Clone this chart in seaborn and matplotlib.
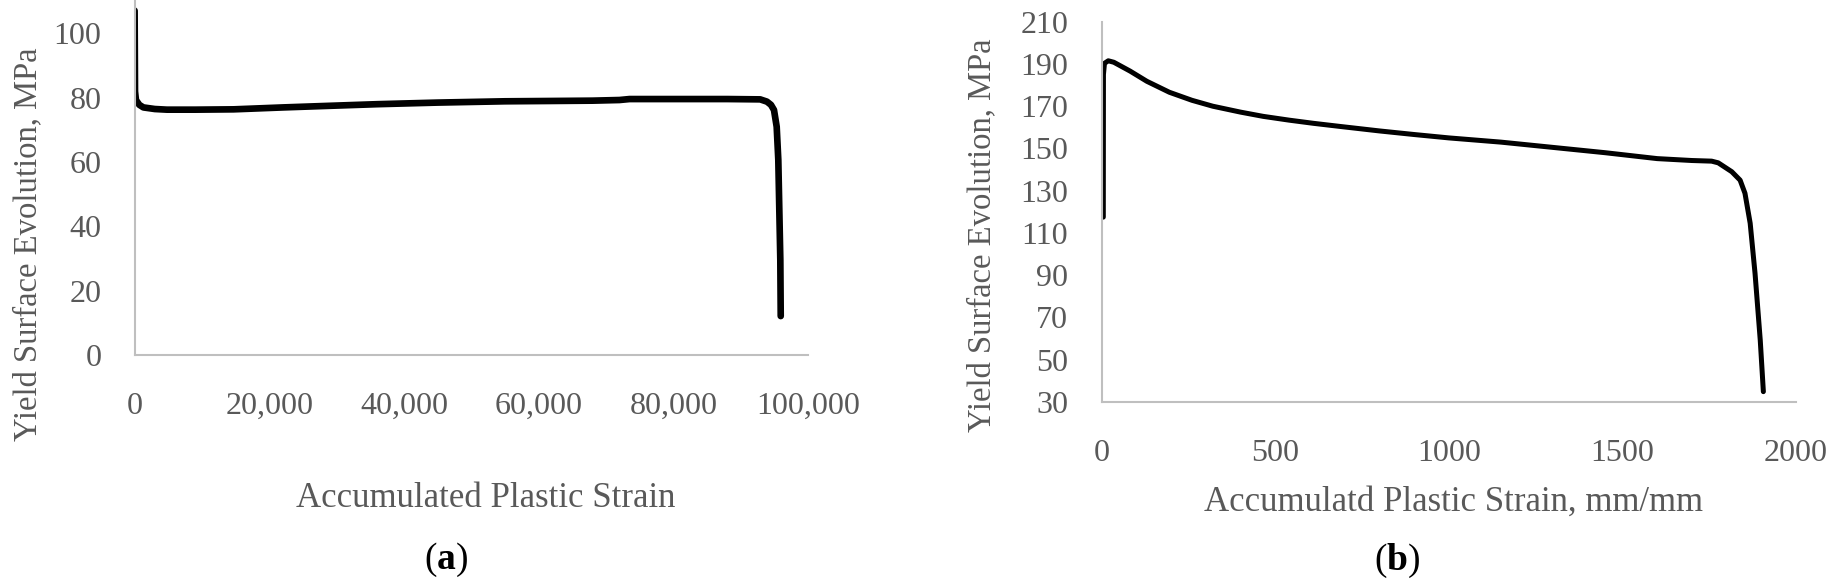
import matplotlib
matplotlib.use("Agg")
import matplotlib.pyplot as plt
import seaborn as sns
import pandas as pd

# ---- data ----
strain_a = [0, 60, 200, 700, 1300, 3000, 4800, 9000, 14700, 22100, 29000, 36000,
            45000, 55000, 61700, 68000, 72000, 73500, 80000, 88000, 92900, 93900,
            94500, 94950, 95350, 95590, 95740, 95890, 95950]
stress_a = [107.1, 82.0, 79.3, 77.8, 77.0, 76.5, 76.3, 76.3, 76.4, 77.0, 77.5, 78.0,
            78.5, 78.9, 79.0, 79.1, 79.3, 79.6, 79.6, 79.6, 79.5, 78.8,
            77.8, 76.2, 71.0, 60.7, 45.1, 29.5, 12.1]

strain_b = [4.6, 5.0, 8, 19, 35, 82, 130, 195, 260, 320, 400, 465, 540, 610, 688,
            800, 900, 1000, 1150, 1300, 1450, 1525, 1600, 1700, 1757, 1776, 1815,
            1839, 1853, 1868, 1882, 1897, 1906]
stress_b = [117.5, 185.0, 190.3, 191.5, 190.8, 186.6, 181.8, 176.6, 172.8, 170.0,
            167.2, 165.2, 163.4, 161.9, 160.4, 158.3, 156.6, 155.0, 153.0, 150.5,
            148.0, 146.6, 145.2, 144.3, 144.0, 143.2, 139.0, 135.0, 128.8, 114.6,
            90.9, 59.3, 34.9]

xticks_a = [0, 20000, 40000, 60000, 80000, 100000]
xticklabels_a = ["0", "20,000", "40,000", "60,000", "80,000", "100,000"]
yticks_a = [0, 20, 40, 60, 80, 100]
xticks_b = [0, 500, 1000, 1500, 2000]
yticks_b = [30, 50, 70, 90, 110, 130, 150, 170, 190, 210]

ylabel_text = "Yield Surface Evolution, MPa"
xlabel_a = "Accumulated Plastic Strain"
xlabel_b = "Accumulatd Plastic Strain, mm/mm"

# ---- style ----
sns.set_theme(style="white")
plt.rcParams["font.family"] = ["Liberation Serif", "DejaVu Serif"]
plt.rcParams["mathtext.fontset"] = "custom"
plt.rcParams["mathtext.rm"] = "Liberation Serif"
plt.rcParams["mathtext.bf"] = "Liberation Serif:bold"

GRAY_TXT = "#595959"
GRAY_AX = "#BFBFBF"
FS = 23

W, H = 1832, 584
fig = plt.figure(figsize=(W / 100, H / 100), dpi=100)
fig.patch.set_facecolor("white")

def px_axes(x0, y_bottom, x1, y_top):
    return fig.add_axes([x0 / W, 1 - y_bottom / H, (x1 - x0) / W, (y_bottom - y_top) / H])

ax1 = px_axes(134.6, 355, 808, 1.3)
ax2 = px_axes(1101.7, 402, 1796, 21.7)

df_a = pd.DataFrame({"strain": strain_a, "stress": stress_a})
df_b = pd.DataFrame({"strain": strain_b, "stress": stress_b})

sns.lineplot(data=df_a, x="strain", y="stress", ax=ax1, color="black",
             linewidth=4.8, estimator=None, sort=False, solid_capstyle="round",
             solid_joinstyle="round")
sns.lineplot(data=df_b, x="strain", y="stress", ax=ax2, color="black",
             linewidth=3.6, estimator=None, sort=False, solid_capstyle="round",
             solid_joinstyle="round")

ax1.set_xlim(0, 100000)
ax1.set_ylim(0, 110)
ax1.set_xticks(xticks_a)
ax1.set_xticklabels(xticklabels_a)
ax1.set_yticks(yticks_a)

ax2.set_xlim(0, 2000)
ax2.set_ylim(30, 210)
ax2.set_xticks(xticks_b)
ax2.set_yticks(yticks_b)

for ax in (ax1, ax2):
    ax.set_xlabel("")
    ax.set_ylabel("")
    ax.set_facecolor("white")
    for s in ("top", "right"):
        ax.spines[s].set_visible(False)
    for s in ("left", "bottom"):
        ax.spines[s].set_color(GRAY_AX)
        ax.spines[s].set_linewidth(1.5)
    ax.tick_params(axis="both", length=0, labelsize=FS, labelcolor=GRAY_TXT)
    ax.tick_params(axis="y", pad=24)
    ax.tick_params(axis="x", pad=26.5)
    ax.grid(False)

def ftext(x, y, s, **kw):
    fig.text(x / W, 1 - y / H, s, **kw)

ftext(28, 244, ylabel_text, rotation=90, ha="center", va="center",
      fontsize=23.5, color=GRAY_TXT)
ftext(982, 235, ylabel_text, rotation=90, ha="center", va="center",
      fontsize=23.5, color=GRAY_TXT)
ftext(486, 507, xlabel_a, ha="center", va="baseline", fontsize=25, color=GRAY_TXT)
ftext(1454, 511, xlabel_b, ha="center", va="baseline", fontsize=25, color=GRAY_TXT)
ftext(446, 569, r"($\mathbf{a}$)", ha="center", va="baseline", fontsize=27, color="black")
ftext(1397, 570, r"($\mathbf{b}$)", ha="center", va="baseline", fontsize=27, color="black")

fig.savefig("out.png", dpi=100, facecolor="white")
